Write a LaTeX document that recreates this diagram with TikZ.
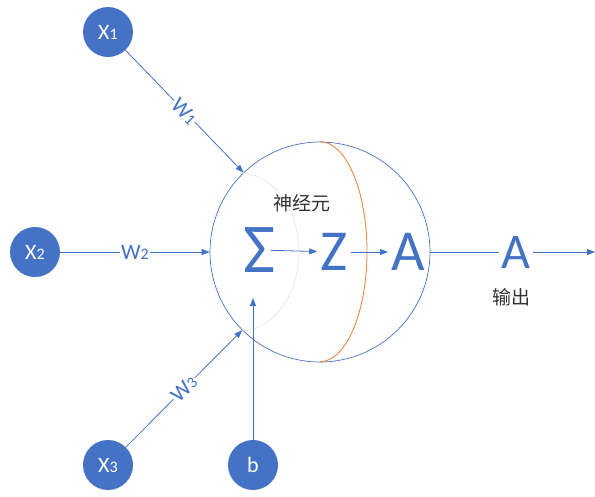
\documentclass[tikz,border=0pt]{standalone}
\usepackage{fontspec}
\setmainfont{Carlito}
\newfontfamily\cjk{Noto Sans CJK SC}
\usetikzlibrary{arrows.meta}
\definecolor{nblue}{HTML}{4472C4}
\definecolor{norange}{HTML}{ED7D31}
\newcommand\lowidx[1]{{\fontsize{16}{16}\selectfont #1}}

\begin{document}
\begin{tikzpicture}[x=1pt, y=-1pt,
  every node/.style={font=\fontsize{22}{22}\selectfont},
  inp/.style={circle, fill=nblue, text=white, minimum size=50pt, inner sep=0pt},
  link/.style={nblue, line width=0.8pt, -{Triangle[length=8pt,width=6pt]}},
  wlab/.style={fill=white, text=nblue, inner sep=1pt, sloped},
  sym/.style={text=nblue, inner sep=3pt, font=\fontsize{58}{58}\selectfont},
  cjklab/.style={text=black!80, font=\cjk\fontsize{19}{19}\selectfont}]
  \useasboundingbox (0,0) rectangle (595,496);
  % neuron body
  \node[circle, draw=nblue, line width=0.7pt, minimum size=220pt, inner sep=0pt] (neuron) at (320,252) {};
  \draw[black!10, line width=0.7pt] (240,173) arc[start angle=90, end angle=-90, x radius=59pt, y radius=79pt];
  \draw[norange, line width=0.8pt] (neuron.north) arc[start angle=90, end angle=-90, x radius=47pt, y radius=110pt];
  \node[cjklab] (title) at (302,203) {神经元};
  % inputs
  \foreach \i/\x/\y in {1/108/32, 2/35/252, 3/108/465}
    \node[inp] (x\i) at (\x,\y) {X\lowidx{\i}};
  \node[inp] (b) at (253,465) {b};
  \foreach \i in {1,2,3}
    \draw[link] (x\i) -- node[wlab] {W\lowidx{\i}} (neuron);
  \coordinate (btip) at (253,298);
  \draw[link] (b) -- (btip);
  % sum, z, activation
  \node[sym, font=\fontsize{70}{70}\selectfont] (sum) at (260,250) {Σ};
  \node[sym] (z) at (334,252) {Z};
  \node[sym] (a) at (408,252) {A};
  \draw[link, shorten <=-9pt] (sum) -- (z);
  \draw[link] (z) -- (a);
  % output
  \node[sym, inner sep=2pt, font=\fontsize{50}{50}\selectfont] (outa) at (516,252) {A};
  \coordinate (outend) at (595,252);
  \draw[nblue, line width=0.8pt] (neuron.east) -- (outa);
  \draw[link] (outa) -- (outend);
  \node[cjklab] (outlab) at (511,297) {输出};
\end{tikzpicture}
\end{document}
